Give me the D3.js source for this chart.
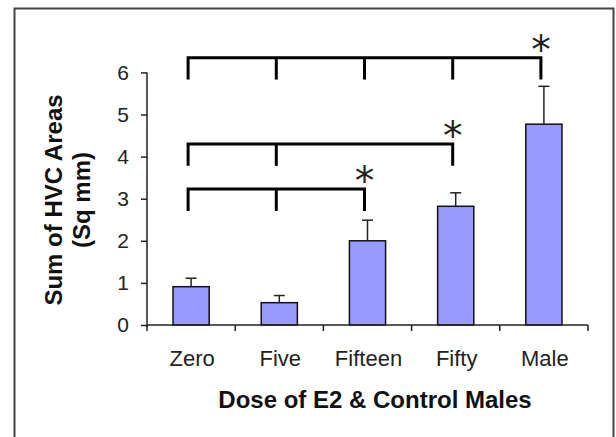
<!DOCTYPE html>
<html>
<head>
<meta charset="utf-8">
<script src="https://cdn.jsdelivr.net/npm/d3@7"></script>
<style>
  body { margin: 0; background: #fff; }
</style>
</head>
<body>
<div id="chart-container"></div>
<script>
// Data
const categories = ["Zero", "Five", "Fifteen", "Fifty", "Male"];
const means = [0.91, 0.53, 2.0, 2.82, 4.77];
const errors = [0.2, 0.17, 0.49, 0.32, 0.9];
const yTicks = [0, 1, 2, 3, 4, 5, 6];

// Significance brackets: height of the bar (data units) and which groups get a leg
const bracketLevels = [6.35, 4.3, 3.23];
const bracketLegs = [
  ["Zero", "Five", "Fifteen", "Fifty", "Male"],
  ["Zero", "Five", "Fifty"],
  ["Zero", "Five", "Fifteen"]
];
const legDrop = 0.52;

const width = 616;
const height = 437;

const svg = d3.create("svg")
    .attr("width", width)
    .attr("height", height)
    .attr("viewBox", `0 0 ${width} ${height}`)
    .style("display", "block")
    .style("font-family", "'Liberation Sans', Arial, sans-serif");

// Outer frame (runs off the bottom of the picture)
svg.append("rect")
    .attr("x", 14.5)
    .attr("y", 8.5)
    .attr("width", 599)
    .attr("height", 440)
    .attr("fill", "none")
    .attr("stroke", "#444")
    .attr("stroke-width", 2);

const x = d3.scaleBand()
    .domain(categories)
    .range([147, 588])
    .padding(0);

const y = d3.scaleLinear()
    .domain([0, 6])
    .range([325, 72.4]);

const barW = x.bandwidth() * 0.41;
const cx = d => x(d) + x.bandwidth() / 2;

// Bars
svg.append("g")
  .selectAll("rect")
  .data(categories)
  .join("rect")
    .attr("x", d => cx(d) - barW / 2)
    .attr("y", (d, i) => y(means[i]))
    .attr("width", barW)
    .attr("height", (d, i) => y(0) - y(means[i]))
    .attr("fill", "#9999ff")
    .attr("stroke", "#111")
    .attr("stroke-width", 1.5);

// Error bars (upper only)
const err = svg.append("g")
    .attr("stroke", "#222")
    .attr("stroke-width", 1.5);

err.selectAll("line.v")
  .data(categories)
  .join("line")
    .attr("class", "v")
    .attr("x1", d => cx(d))
    .attr("x2", d => cx(d))
    .attr("y1", (d, i) => y(means[i]))
    .attr("y2", (d, i) => y(means[i] + errors[i]));

err.selectAll("line.cap")
  .data(categories)
  .join("line")
    .attr("class", "cap")
    .attr("x1", d => cx(d) - 5.5)
    .attr("x2", d => cx(d) + 5.5)
    .attr("y1", (d, i) => y(means[i] + errors[i]))
    .attr("y2", (d, i) => y(means[i] + errors[i]));

// Y axis
const yAxis = svg.append("g")
    .attr("transform", "translate(147,0)")
    .call(d3.axisLeft(y).tickValues(yTicks).tickFormat(d3.format("d"))
      .tickSize(6).tickSizeOuter(0).tickPadding(12));

yAxis.select(".domain").attr("stroke", "#222").attr("stroke-width", 1.5)
    .attr("d", `M0,${y(6)}V${y(0) + 2}`);
yAxis.selectAll(".tick line").attr("stroke", "#222").attr("stroke-width", 1.5);
yAxis.selectAll(".tick text")
    .attr("fill", "#222")
    .style("font-size", "21px")
    .style("font-family", "'Liberation Sans', Arial, sans-serif");

// X axis: ticks at category boundaries
const xAxis = svg.append("g");
xAxis.append("line")
    .attr("x1", 147).attr("x2", 588)
    .attr("y1", y(0)).attr("y2", y(0))
    .attr("stroke", "#222").attr("stroke-width", 1.5);

const bounds = categories.map(d => x(d)).concat([x.range()[1]]);
xAxis.selectAll("line.tick")
  .data(bounds)
  .join("line")
    .attr("class", "tick")
    .attr("x1", d => d).attr("x2", d => d)
    .attr("y1", y(0)).attr("y2", y(0) + 6)
    .attr("stroke", "#222").attr("stroke-width", 1.5);

xAxis.selectAll("text")
  .data(categories)
  .join("text")
    .attr("x", d => cx(d) + 1)
    .attr("y", 365.5)
    .attr("text-anchor", "middle")
    .attr("fill", "#222")
    .style("font-size", "22px")
    .text(d => d);

// Axis titles
svg.append("text")
    .attr("x", 375)
    .attr("y", 407.5)
    .attr("text-anchor", "middle")
    .attr("fill", "#111")
    .style("font-size", "24px")
    .style("font-weight", "bold")
    .text("Dose of E2 & Control Males");

const yTitle = svg.append("text")
    .attr("transform", "translate(62,200) rotate(-90)")
    .attr("text-anchor", "middle")
    .attr("fill", "#111")
    .style("font-size", "24px")
    .style("font-weight", "bold");
yTitle.append("tspan").attr("x", 0).attr("y", 0).text("Sum of HVC Areas");
yTitle.append("tspan").attr("x", 0).attr("y", 28).text("(Sq mm)");

// Significance brackets
const br = svg.append("g")
    .attr("stroke", "#000")
    .attr("stroke-width", 3)
    .attr("fill", "none");

bracketLevels.forEach((lvl, k) => {
  const legs = bracketLegs[k];
  const xs = legs.map(d => cx(d) - 3);
  br.append("path")
      .attr("d", `M${xs[0]},${y(lvl - legDrop)}V${y(lvl)}H${xs[xs.length - 1]}V${y(lvl - legDrop)}`);
  xs.slice(1, -1).forEach(xx => {
    br.append("line")
        .attr("x1", xx).attr("x2", xx)
        .attr("y1", y(lvl)).attr("y2", y(lvl - legDrop));
  });
  svg.append("text")
      .attr("x", xs[xs.length - 1])
      .attr("y", y(lvl) + 5)
      .attr("text-anchor", "middle")
      .attr("fill", "#222")
      .style("font-family", "'DejaVu Sans', sans-serif")
      .style("font-size", "39px")
      .text("*");
});

document.getElementById("chart-container").appendChild(svg.node());
</script>
</body>
</html>
